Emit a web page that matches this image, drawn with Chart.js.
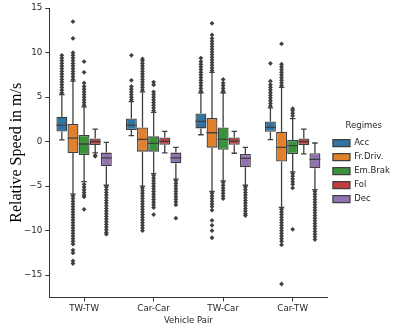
<!DOCTYPE html>
<html>
<head>
<meta charset="utf-8">
<script src="https://cdn.jsdelivr.net/npm/chart.js@4/dist/chart.umd.min.js"></script>
<style>
html,body{margin:0;padding:0;background:#fff;overflow:hidden;}
#wrap{position:relative;width:400px;height:332px;}
</style>
</head>
<body>
<div id="wrap"><canvas id="c"></canvas></div>
<script>
const categories = ['TW-TW', 'Car-Car', 'TW-Car', 'Car-TW'];
const regimes = ['Acc', 'Fr.Driv.', 'Em.Brak', 'Fol', 'Dec'];
const yTicks = [-15, -10, -5, 0, 5, 10, 15];

// box statistics per regime, one value per vehicle pair
const accQ1 = [1.15, 1.30, 1.49, 1.12];
const accMed = [1.87, 1.87, 2.27, 1.60];
const accQ3 = [2.80, 2.60, 3.17, 2.27];
const accLo = [0.20, 0.67, 0.78, 0.22];
const accHi = [5.30, 4.50, 5.50, 3.80];

const frQ1 = [-1.27, -1.12, -0.67, -2.24];
const frMed = [0.40, 0.26, 1.00, -0.64];
const frQ3 = [2.00, 1.60, 2.65, 1.12];
const frLo = [-5.90, -5.00, -5.60, -7.40];
const frHi = [6.80, 5.60, 7.80, 6.10];

const emQ1 = [-1.50, -1.12, -0.90, -1.38];
const emMed = [-0.26, -0.19, 0.26, -0.45];
const emQ3 = [0.75, 0.60, 1.60, 0.20];
const emLo = [-4.50, -3.60, -4.40, -3.40];
const emHi = [3.90, 3.30, 5.50, 2.60];

const folQ1 = [-0.37, -0.34, -0.34, -0.37];
const folMed = [0.00, 0.03, 0.07, 0.00];
const folQ3 = [0.37, 0.48, 0.48, 0.37];
const folLo = [-1.27, -1.27, -1.30, -1.38];
const folHi = [1.42, 1.15, 1.15, 1.42];

const decQ1 = [-2.76, -2.43, -2.88, -3.00];
const decMed = [-1.83, -1.83, -1.87, -1.98];
const decQ3 = [-1.23, -1.23, -1.38, -1.30];
const decLo = [-4.90, -4.20, -4.90, -5.40];
const decHi = [-0.08, -0.64, -0.64, -0.15];

// outliers per regime, one list per vehicle pair
const accOut = [
  [5.5,5.8,6.1,6.4,6.7,7.0,7.3,7.6,7.9,8.2,8.5,8.8,9.1,9.4,9.7],
  [4.7,5.0,5.3,5.6,5.9,6.2,6.9,9.7],
  [5.7,6.0,6.3,6.6,6.9,7.2,7.5,7.8,8.1,8.4,8.7,9.0,9.4],
  [4.0,4.3,4.6,4.9,5.2,5.5,5.8,6.1,6.4,6.8,8.8]
];
const frOut = [
  [7.0,7.3,7.6,7.9,8.2,8.5,8.8,9.1,9.4,9.7,10.0,11.6,13.5,-6.1,-6.4,-6.7,-7.0,-7.3,-7.6,-7.9,-8.2,-8.5,-8.8,-9.1,-9.4,-9.7,-10.0,-10.3,-10.6,-10.9,-11.2,-11.5,-12.2,-12.5,-13.4,-13.7],
  [5.8,6.1,6.4,6.7,7.0,7.3,7.6,7.9,8.2,8.5,8.8,9.1,9.3,-5.2,-5.5,-5.8,-6.1,-6.4,-6.7,-7.0,-7.3,-7.6,-7.9,-8.2,-8.5,-8.8,-9.1,-9.4,-9.7,-10.0],
  [8.0,8.3,8.6,8.9,9.2,9.5,9.8,10.1,10.4,10.7,11.0,11.3,11.6,12.0,13.3,-5.8,-6.1,-6.4,-6.7,-7.0,-7.3,-7.7,-8.85,-9.4,-10.0,-10.8],
  [6.3,6.6,6.9,7.2,7.5,7.8,8.1,8.4,8.7,11.0,-7.6,-7.9,-8.2,-8.5,-8.8,-9.1,-9.4,-9.7,-10.0,-10.3,-10.6,-10.9,-11.2,-11.6,-16.0]
];
const emOut = [
  [4.1,4.4,4.7,5.0,5.3,5.6,5.9,6.2,6.6,7.8,9.0,-4.8,-5.1,-5.4,-5.7,-6.0,-6.2,-7.6],
  [3.5,3.8,4.1,4.4,4.7,5.0,5.3,5.6,6.4,6.7,-3.8,-4.1,-4.4,-4.7,-5.0,-5.3,-5.6,-5.9,-6.2,-6.5,-6.8,-7.1,-7.4,-8.2],
  [5.7,6.0,6.3,6.6,7.0,-4.6,-4.9,-5.2,-5.5,-5.8,-6.1,-6.4],
  [2.9,3.2,3.5,3.7,-3.6,-3.9,-4.2,-4.5,-4.8,-5.2,-9.85]
];
const folOut = [
  [-1.55,-1.65],
  [],
  [],
  []
];
const decOut = [
  [-5.1,-5.4,-5.7,-6.0,-6.3,-6.6,-6.9,-7.2,-7.5,-7.8,-8.1,-8.4,-8.7,-9.0,-9.3,-9.6,-9.9,-10.2,-10.4],
  [-4.4,-4.7,-5.0,-5.3,-5.6,-5.9,-6.2,-6.5,-6.8,-7.1,-8.6],
  [-5.1,-5.4,-5.7,-6.0,-6.3,-6.6,-6.9,-7.2,-7.5,-7.8,-8.1,-8.3],
  [-5.6,-5.9,-6.2,-6.5,-6.8,-7.1,-7.4,-7.7,-8.0,-8.3,-8.6,-8.9,-9.2,-9.5,-9.8,-10.1,-10.4,-10.7,-11.0]
];

const colors = ['#3274a1', '#e1812c', '#3a923a', '#c03d3e', '#9372b2'];
const edge = '#3f3f3f';

const stats = [
  {q1: accQ1, med: accMed, q3: accQ3, lo: accLo, hi: accHi, out: accOut},
  {q1: frQ1, med: frMed, q3: frQ3, lo: frLo, hi: frHi, out: frOut},
  {q1: emQ1, med: emMed, q3: emQ3, lo: emLo, hi: emHi, out: emOut},
  {q1: folQ1, med: folMed, q3: folQ3, lo: folLo, hi: folHi, out: folOut},
  {q1: decQ1, med: decMed, q3: decQ3, lo: decLo, hi: decHi, out: decOut}
];

const groupWidth = 0.8;
const nHue = regimes.length;
const slot = groupWidth / nHue;
const boxHalf = slot * 0.98 / 2;
const capHalf = boxHalf / 2;
const offsetOf = k => -groupWidth / 2 + slot / 2 + slot * k;

const datasets = [];
regimes.forEach((name, k) => {
  const s = stats[k];
  datasets.push({
    type: 'bar',
    label: name,
    data: categories.map((c, i) => ({x: i + offsetOf(k), y: [s.q1[i], s.q3[i]]})),
    backgroundColor: colors[k],
    borderColor: edge,
    borderWidth: 1.3,
    borderSkipped: false,
    grouped: false,
    barPercentage: 0.98,
    categoryPercentage: 1,
    order: 5
  });
});

const whisk = [], meds = [], outs = [];
regimes.forEach((name, k) => {
  const s = stats[k];
  const off = offsetOf(k);
  categories.forEach((c, i) => {
    const xc = i + off;
    whisk.push({x: xc, y: s.q3[i]}, {x: xc, y: s.hi[i]}, {x: xc, y: null});
    whisk.push({x: xc, y: s.q1[i]}, {x: xc, y: s.lo[i]}, {x: xc, y: null});
    whisk.push({x: xc - capHalf, y: s.hi[i]}, {x: xc + capHalf, y: s.hi[i]}, {x: xc, y: null});
    whisk.push({x: xc - capHalf, y: s.lo[i]}, {x: xc + capHalf, y: s.lo[i]}, {x: xc, y: null});
    meds.push({x: xc - boxHalf, y: s.med[i]}, {x: xc + boxHalf, y: s.med[i]}, {x: xc, y: null});
    s.out[i].forEach(v => outs.push({x: xc, y: v}));
  });
});

datasets.push({
  type: 'line', label: 'whiskers', data: whisk,
  borderColor: edge, borderWidth: 1.3, pointRadius: 0, spanGaps: false, fill: false, order: 6
});
datasets.push({
  type: 'line', label: 'medians', data: meds,
  borderColor: edge, borderWidth: 1.3, pointRadius: 0, spanGaps: false, fill: false, order: 1
});
datasets.push({
  type: 'line', label: 'outliers', data: outs,
  showLine: false, pointStyle: 'rectRot', pointRadius: 2.4,
  backgroundColor: edge, borderColor: edge, borderWidth: 0, order: 2
});

const tickFont = {family: 'DejaVu Sans', size: 8.7};
const minus = v => String(v).replace('-', '\u2212');

new Chart(document.getElementById('c'), {
  type: 'bar',
  data: {datasets: datasets},
  options: {
    responsive: true,
    maintainAspectRatio: false,
    animation: false,
    layout: {padding: {top: 2, left: 0, right: 0, bottom: 6}},
    plugins: {
      tooltip: {enabled: false},
      legend: {
        position: 'right',
        align: 'center',
        title: {display: true, text: 'Regimes', color: '#262626', font: {family: 'DejaVu Sans', size: 8.5}, padding: 2},
        labels: {
          filter: item => item.datasetIndex < nHue,
          boxWidth: 17, boxHeight: 7, padding: 5.5,
          color: '#262626', font: {family: 'DejaVu Sans', size: 8.5}
        }
      }
    },
    scales: {
      x: {
        type: 'linear',
        min: -0.5, max: 3.5,
        offset: false,
        afterBuildTicks: axis => { axis.ticks = categories.map((c, i) => ({value: i})); },
        grid: {display: true, drawOnChartArea: false, drawTicks: true, tickLength: 4, offset: false, color: '#333'},
        border: {display: true, color: '#333', width: 1},
        ticks: {color: '#262626', font: tickFont, padding: 2, maxRotation: 0, autoSkip: false, callback: v => categories[v]},
        title: {display: true, text: 'Vehicle Pair', color: '#262626', font: {family: 'DejaVu Sans', size: 8.5}, padding: {top: 0, bottom: 0}}
      },
      y: {
        type: 'linear',
        min: -17.5, max: 15,
        afterBuildTicks: axis => { axis.ticks = yTicks.map(v => ({value: v})); },
        grid: {display: true, drawOnChartArea: false, drawTicks: true, tickLength: 4, color: '#333'},
        border: {display: true, color: '#333', width: 1},
        ticks: {color: '#262626', font: tickFont, padding: 3, callback: v => minus(v)},
        title: {display: true, text: 'Relative Speed in m/s', color: '#000', font: {family: 'Liberation Serif', size: 16, lineHeight: 1}, padding: {top: 9, bottom: -4}}
      }
    }
  }
});
</script>
</body>
</html>
